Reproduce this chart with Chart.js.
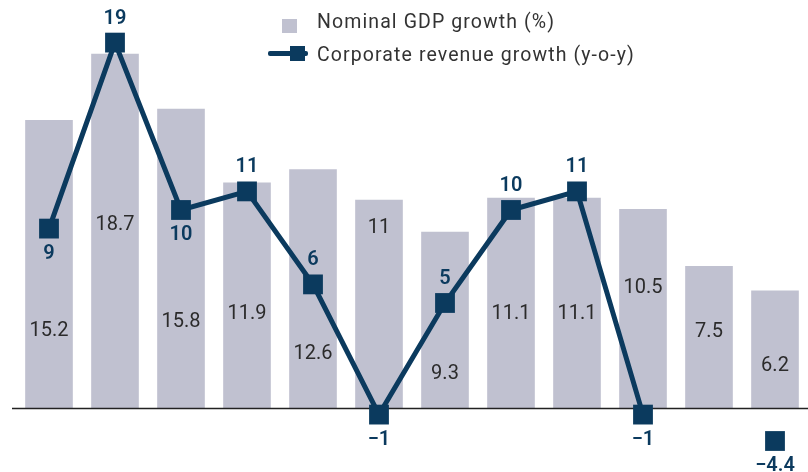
<!DOCTYPE html>
<html>
<head>
<meta charset="utf-8">
<title>Nominal GDP growth vs corporate revenue growth</title>
<script src="https://cdn.jsdelivr.net/npm/chart.js@4/dist/chart.umd.min.js"></script>
<style>
    html, body { margin: 0; padding: 0; background: #fff; }
    #wrap { position: relative; width: 808px; height: 472px; }
    #chart { position: absolute; left: 0; top: 0; }
    .legend-text {
        position: absolute;
        font-family: Roboto, "Liberation Sans", sans-serif;
        font-size: 19.5px;
        letter-spacing: 1.1px;
        line-height: 20px;
        color: #333;
        white-space: nowrap;
    }
    .legend-swatch { position: absolute; }
</style>
</head>
<body>
<div id="wrap">
    <canvas id="chart" width="808" height="472"></canvas>
    <div class="legend-swatch" style="left:282px; top:19px; width:15px; height:14px; background:#c0c1d0;"></div>
    <div class="legend-text" style="left:317px; top:12px;">Nominal GDP growth (%)</div>
    <div class="legend-swatch" style="left:268px; top:51px; width:40px; height:5px; border-radius:2px; background:#0b3a5e;"></div>
    <div class="legend-swatch" style="left:290px; top:46px; width:15px; height:15px; background:#0b3a5e;"></div>
    <div class="legend-text" style="left:317px; top:45px;">Corporate revenue growth (y-o-y)</div>
</div>
<script>
// --- Data ---
const periods = ['P1', 'P2', 'P3', 'P4', 'P5', 'P6', 'P7', 'P8', 'P9', 'P10', 'P11', 'P12'];
const gdpGrowth = [15.2, 18.7, 15.8, 11.9, 12.6, 11, 9.3, 11.1, 11.1, 10.5, 7.5, 6.2];
const revenueGrowth = [9, 19, 10, 11, 6, -1, 5, 10, 11, -1, null, -4.4];

// --- Layout of the value labels ---
// where each bar label sits, as a share of the bar height
const barLabelAt = [0.27, 0.52, 0.29, 0.42, 0.23, 0.87, 0.20, 0.45, 0.45, 0.61, 0.54, 0.37];
// which side of the marker each line label goes
const lineLabelSide = ['below', 'above', 'below', 'above', 'above', 'below', 'above', 'above', 'above', 'below', null, 'below'];

const BAR_COLOR = '#c0c1d0';
const LINE_COLOR = '#0b3a5e';
const FONT = 'Roboto, "Liberation Sans", sans-serif';

const fmt = (v) => String(v).replace('-', '\u2212');

// markers beyond the plot bottom are pinned to the edge (off-scale point)
const clampToArea = {
    id: 'clampToArea',
    afterDatasetsUpdate(chart) {
        const bottom = chart.chartArea.bottom;
        chart.getDatasetMeta(0).data.forEach(pt => {
            if (pt.y > bottom) pt.y = bottom;
        });
    }
};

// zero line, drawn over the bars but under the line
const baseline = {
    id: 'baseline',
    afterDatasetDraw(chart, args) {
        if (args.index !== 1) return;
        const ctx = chart.ctx;
        const y = Math.round(chart.scales.y.getPixelForValue(0)) + 0.5;
        ctx.save();
        ctx.strokeStyle = '#222';
        ctx.lineWidth = 1.5;
        ctx.beginPath();
        ctx.moveTo(12, y);
        ctx.lineTo(chart.width, y);
        ctx.stroke();
        ctx.restore();
    }
};

const valueLabels = {
    id: 'valueLabels',
    afterDraw(chart) {
        const ctx = chart.ctx;
        const yScale = chart.scales.y;
        ctx.save();
        ctx.textAlign = 'center';
        ctx.textBaseline = 'middle';

        ctx.font = `400 20px ${FONT}`;
        ctx.fillStyle = '#2b2b2b';
        chart.getDatasetMeta(1).data.forEach((bar, i) => {
            const y = yScale.getPixelForValue(gdpGrowth[i] * barLabelAt[i]);
            ctx.fillText(fmt(gdpGrowth[i]), bar.x, y + 1);
        });

        ctx.font = `600 20px ${FONT}`;
        ctx.fillStyle = LINE_COLOR;
        chart.getDatasetMeta(0).data.forEach((pt, i) => {
            if (revenueGrowth[i] === null) return;
            const dy = lineLabelSide[i] === 'above' ? -25 : 24;
            ctx.fillText(fmt(revenueGrowth[i]), pt.x, pt.y + dy + 1);
        });
        ctx.restore();
    }
};

new Chart(document.getElementById('chart'), {
    type: 'bar',
    data: {
        labels: periods,
        datasets: [
            {
                type: 'line',
                label: 'Corporate revenue growth (y-o-y)',
                data: revenueGrowth,
                yAxisID: 'y2',
                order: 0,
                borderColor: LINE_COLOR,
                borderWidth: 5,
                tension: 0,
                spanGaps: false,
                clip: false,
                pointStyle: 'rect',
                pointRadius: 14,
                pointHoverRadius: 14,
                pointBorderWidth: 0,
                pointBackgroundColor: LINE_COLOR,
            },
            {
                label: 'Nominal GDP growth (%)',
                data: gdpGrowth,
                yAxisID: 'y',
                order: 1,
                backgroundColor: BAR_COLOR,
                categoryPercentage: 1,
                barPercentage: 0.722,
            }
        ]
    },
    options: {
        responsive: false,
        devicePixelRatio: 1,
        animation: false,
        layout: {
            autoPadding: false,
            padding: { left: 16, right: -5, top: 0, bottom: 31 }
        },
        scales: {
            x: { display: false },
            y: { display: false, min: -1.742, max: 21.54 },
            y2: { display: false, min: -2.42, max: 21.29 }
        },
        plugins: {
            legend: { display: false },
            tooltip: { enabled: false }
        }
    },
    plugins: [clampToArea, baseline, valueLabels]
});
</script>
</body>
</html>
